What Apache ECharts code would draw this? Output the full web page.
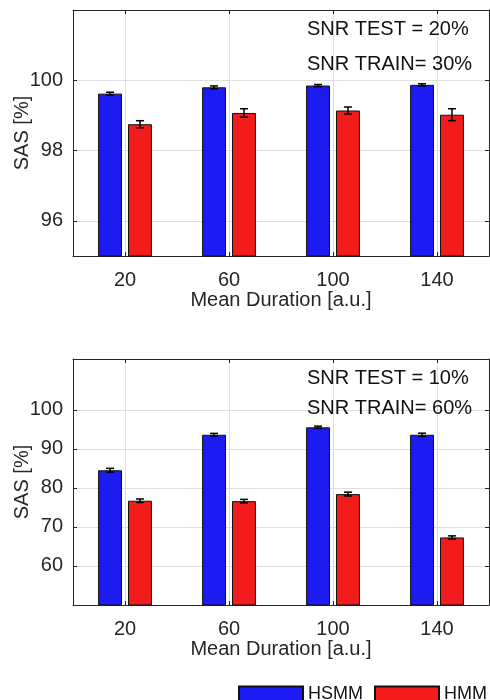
<!DOCTYPE html>
<html>
<head>
<meta charset="utf-8">
<script src="https://cdn.jsdelivr.net/npm/echarts@6/dist/echarts.min.js"></script>
<style>
  html, body { margin: 0; padding: 0; background: #fff; }
  #chart { width: 490px; height: 700px; }
</style>
</head>
<body>
<div id="chart"></div>
<script>
// Mean duration categories shared by both panels
const durations = ['20', '60', '100', '140'];

// Panel 1: SNR test 20%, train 30%
const hsmmTop = [99.62, 99.80, 99.85, 99.87];
const hsmmTopErr = [0.04, 0.04, 0.03, 0.03];
const hmmTop = [98.75, 99.07, 99.14, 99.02];
const hmmTopErr = [0.10, 0.12, 0.10, 0.17];
const topTicks = [96, 98, 100];

// Panel 2: SNR test 10%, train 60%
const hsmmBottom = [84.5, 93.6, 95.5, 93.6];
const hsmmBottomErr = [0.5, 0.35, 0.3, 0.4];
const hmmBottom = [76.7, 76.6, 78.4, 67.3];
const hmmBottomErr = [0.45, 0.45, 0.5, 0.4];
const bottomTicks = [60, 70, 80, 90, 100];

const blue = '#1c1cf2';
const red = '#f21c1c';
const ink = '#262626';
const gridGray = '#dedede';
const font = 'Liberation Sans, Arial, Helvetica, sans-serif';

const BAR_W = 0.23;   // bar width as a share of the category band
const BAR_GAP = 0.25; // gap between bars as a share of bar width
const centreShift = (BAR_W + BAR_W * BAR_GAP) / 2;

function errorItem(dir) {
  return function (params, api) {
    const band = api.size([1, 0])[0];
    const shift = dir * band * centreShift;
    const hi = api.coord([api.value(0), api.value(1) + api.value(2)]);
    const lo = api.coord([api.value(0), api.value(1) - api.value(2)]);
    const x = hi[0] + shift;
    const cap = 4;
    const style = { stroke: '#000', lineWidth: 1.5 };
    return {
      type: 'group',
      children: [
        { type: 'line', shape: { x1: x, y1: hi[1], x2: x, y2: lo[1] }, style },
        { type: 'line', shape: { x1: x - cap, y1: hi[1], x2: x + cap, y2: hi[1] }, style },
        { type: 'line', shape: { x1: x - cap, y1: lo[1], x2: x + cap, y2: lo[1] }, style }
      ]
    };
  };
}

function errData(vals, errs) {
  return vals.map((v, i) => [i, v, errs[i]]);
}

const grids = [
  { left: 73, top: 10, width: 416, height: 246, outerBoundsMode: 'none', containLabel: false },
  { left: 73, top: 359, width: 416, height: 246, outerBoundsMode: 'none', containLabel: false }
];

function xAxes(gi) {
  return [
    {
      type: 'category', gridIndex: gi, data: durations, position: 'bottom',
      name: 'Mean Duration [a.u.]', nameLocation: 'middle', nameGap: 33,
      nameTextStyle: { fontFamily: font, fontSize: 20, color: ink },
      axisLine: { show: true, lineStyle: { color: ink, width: 1 } },
      axisTick: { show: true, inside: true, alignWithLabel: true, length: 4, lineStyle: { color: ink } },
      axisLabel: { fontFamily: font, fontSize: 20, color: ink, margin: 14 },
      splitLine: { show: true, alignWithLabel: true, lineStyle: { color: gridGray, width: 1 } }
    },
    {
      type: 'category', gridIndex: gi, data: durations, position: 'top',
      axisLine: { show: true, lineStyle: { color: ink, width: 1 } },
      axisTick: { show: true, inside: true, alignWithLabel: true, length: 4, lineStyle: { color: ink } },
      axisLabel: { show: false },
      splitLine: { show: false }
    }
  ];
}

function yAxes(gi, min, max, ticks) {
  return [
    {
      type: 'value', gridIndex: gi, min: min, max: max, position: 'left',
      name: 'SAS [%]', nameLocation: 'middle', nameGap: 41, nameRotate: 90,
      nameMoveOverlap: false,
      nameTextStyle: { fontFamily: font, fontSize: 20, color: ink },
      axisLine: { show: true, lineStyle: { color: ink, width: 1 } },
      axisTick: { show: true, inside: true, length: 4, customValues: ticks, lineStyle: { color: ink } },
      axisLabel: { fontFamily: font, fontSize: 20, color: ink, margin: 10, customValues: ticks },
      splitLine: { show: true, lineStyle: { color: gridGray, width: 1 } }
    },
    {
      type: 'value', gridIndex: gi, min: min, max: max, position: 'right',
      axisLine: { show: true, lineStyle: { color: ink, width: 1 } },
      axisTick: { show: true, inside: true, length: 4, customValues: ticks, lineStyle: { color: ink } },
      axisLabel: { show: false, customValues: ticks },
      splitLine: { show: false }
    }
  ];
}

function barSeries(name, data, color, xi, yi) {
  return {
    name: name, type: 'bar', data: data, xAxisIndex: xi, yAxisIndex: yi,
    barWidth: (BAR_W * 100) + '%', barGap: (BAR_GAP * 100) + '%',
    itemStyle: { color: color, borderColor: '#111', borderWidth: 1 },
    emphasis: { disabled: true }, animation: false, z: 2
  };
}

function errSeries(vals, errs, dir, xi, yi) {
  return {
    type: 'custom', renderItem: errorItem(dir), data: errData(vals, errs),
    xAxisIndex: xi, yAxisIndex: yi, z: 5, animation: false, silent: true,
    encode: { x: 0, y: 1 }
  };
}

function label(text, x, y) {
  return {
    type: 'text', left: x, top: y, z: 20,
    style: { text: text, font: '20px ' + font, fill: '#111' }
  };
}

const option = {
  backgroundColor: '#fff',
  animation: false,
  grid: grids,
  xAxis: xAxes(0).concat(xAxes(1)),
  yAxis: yAxes(0, 95, 102, topTicks).concat(yAxes(1, 50, 113, bottomTicks)),
  legend: {
    data: ['HSMM', 'HMM'], left: 238, top: 685, icon: 'rect', padding: 0,
    itemWidth: 64, itemHeight: 15, itemGap: 11,
    textStyle: { fontFamily: font, fontSize: 18, color: '#111' },
    selectedMode: false
  },
  series: [
    barSeries('HSMM', hsmmTop, blue, 0, 0),
    barSeries('HMM', hmmTop, red, 0, 0),
    errSeries(hsmmTop, hsmmTopErr, -1, 0, 0),
    errSeries(hmmTop, hmmTopErr, 1, 0, 0),
    barSeries('HSMM', hsmmBottom, blue, 2, 2),
    barSeries('HMM', hmmBottom, red, 2, 2),
    errSeries(hsmmBottom, hsmmBottomErr, -1, 2, 2),
    errSeries(hmmBottom, hmmBottomErr, 1, 2, 2)
  ],
  graphic: [
    label('SNR TEST = 20%', 307, 19),
    label('SNR TRAIN= 30%', 307, 54),
    label('SNR TEST = 10%', 307, 368),
    label('SNR TRAIN= 60%', 307, 398)
  ]
};

const chart = echarts.init(document.getElementById('chart'), null, { renderer: 'canvas' });
chart.setOption(option);
</script>
</body>
</html>
